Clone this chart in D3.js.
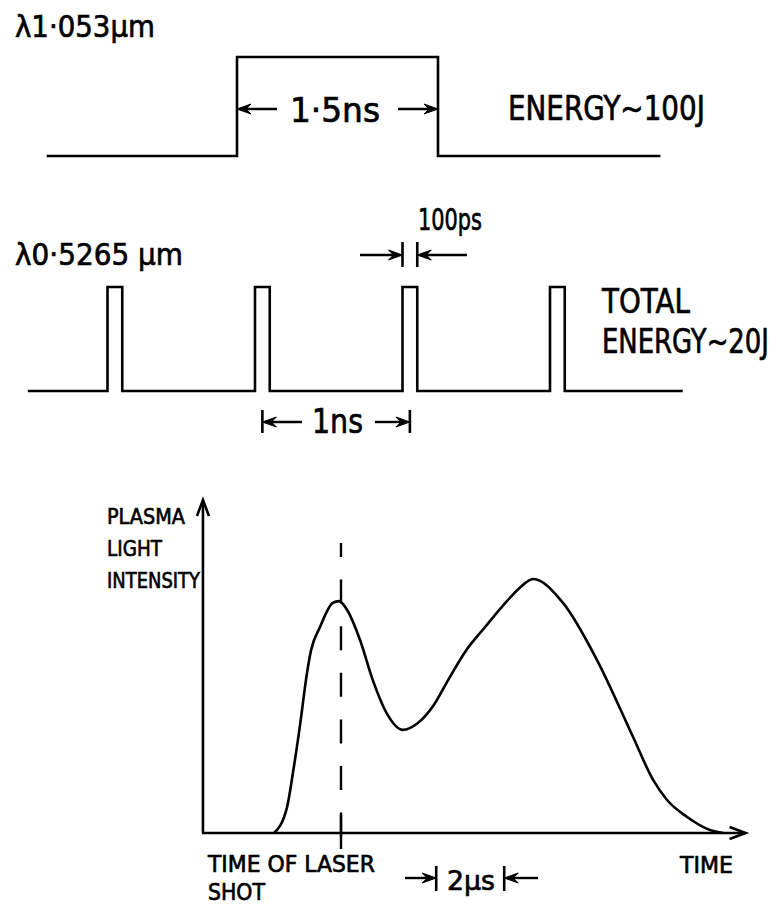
<!DOCTYPE html>
<html>
<head>
<meta charset="utf-8">
<script src="https://cdn.jsdelivr.net/npm/d3@7"></script>
<style>
  body { margin: 0; background: #fff; }
  text { font-family: "DejaVu Sans", sans-serif; fill: #000; stroke: #000; stroke-width: 0.7; }
</style>
</head>
<body>
<svg id="chart" width="778" height="907"></svg>
<script>
// 1.053 um drive pulse: time (ns) and relative level
const longPulseT = [-1.42, 0, 0, 1.5, 1.5, 3.16];
const longPulseV = [0, 0, 1, 1, 0, 0];

// 0.5265 um pulse train: pulse start times (ns), width (ns), trace limits
const shortPulseStarts = [0, 1, 2, 3];
const shortPulseWidth = 0.1;
const trainLimits = [-0.54, 3.9];

// plasma light intensity: time from laser shot (us), intensity (arb.)
const plasmaT = [-1.97, -1.59, -1.41, -1.21, -1.0, -0.88, -0.62, -0.24, -0.06,
                 0.18, 0.56, 0.94, 1.35, 1.82, 2.26, 2.71, 3.15, 3.65, 4.24, 4.88, 5.26,
                 5.65, 6.53, 7.53, 8.59, 9.18, 9.59, 10.18, 10.85, 11.24];
const plasmaI = [0, 0.10, 0.24, 0.42, 0.63, 0.72, 0.81, 0.906, 0.913,
                 0.878, 0.76, 0.60, 0.47, 0.406, 0.433, 0.50, 0.602, 0.713, 0.811, 0.913, 0.966,
                 1.0, 0.906, 0.681, 0.378, 0.209, 0.13, 0.063, 0.012, 0];
const plasmaAxisT = [-4.06, 11.9];

const svg = d3.select('#chart');
svg.append('rect').attr('width', 778).attr('height', 907).attr('fill', '#fff');

const SW = 2.6;

// scales
const xLong = d3.scaleLinear().domain([0, 1.5]).range([237, 438]);
const yLong = d3.scaleLinear().domain([0, 1]).range([156, 57]);
const xShort = d3.scaleLinear().domain([0, 1]).range([107.5, 255]);
const yShort = d3.scaleLinear().domain([0, 1]).range([391, 287]);
const xPl = d3.scaleLinear().domain([0, 2]).range([341, 409]);
const yPl = d3.scaleLinear().domain([0, 1]).range([833, 579]);

// helpers
// narrow lettering: squeeze the text horizontally to the measured width
function label(str, x, y, w, fs) {
    const t = svg.append('text')
        .attr('font-size', fs)
        .text(str);
    const nat = t.node().getComputedTextLength();
    t.attr('transform', `translate(${x},${y}) scale(${w / nat},1)`);
}

function seg(x1, y1, x2, y2, w) {
    svg.append('line')
        .attr('x1', x1).attr('y1', y1).attr('x2', x2).attr('y2', y2)
        .attr('stroke', '#000').attr('stroke-width', w || SW);
}

// horizontal dimension arrow from x1 to tip at x2
function arrow(x1, x2, y) {
    const dir = x2 > x1 ? 1 : -1;
    seg(x1, y, x2 - dir * 6, y, 2.4);
    svg.append('path')
        .attr('d', `M${x2},${y} L${x2 - dir * 14},${y - 5} L${x2 - dir * 9},${y} L${x2 - dir * 14},${y + 5} Z`)
        .attr('fill', '#000').attr('stroke', '#000').attr('stroke-width', 1);
}

const line = d3.line().x(d => d[0]).y(d => d[1]);

// ---- top: 1.053 um pulse ----
svg.append('path')
    .attr('d', line(longPulseT.map((t, i) => [xLong(t), yLong(longPulseV[i])])))
    .attr('fill', 'none').attr('stroke', '#000').attr('stroke-width', SW);

label('λ1·053μm', 15, 37, 140, 30);
arrow(277, xLong(0), 109);
arrow(398, xLong(1.5), 109);
label('1·5ns', 290, 122, 90, 33);
label('ENERGY~100J', 508, 120, 197, 33);

// ---- middle: 0.5265 um pulse train ----
const train = [[trainLimits[0], 0]];
shortPulseStarts.forEach(s => {
    train.push([s, 0], [s, 1], [s + shortPulseWidth, 1], [s + shortPulseWidth, 0]);
});
train.push([trainLimits[1], 0]);
svg.append('path')
    .attr('d', line(train.map(d => [xShort(d[0]), yShort(d[1])])))
    .attr('fill', 'none').attr('stroke', '#000').attr('stroke-width', SW);

label('λ0·5265 μm', 15, 265, 168, 30);

// 100 ps marker on third pulse
const p3 = shortPulseStarts[2];
seg(xShort(p3), 242, xShort(p3), 267);
seg(xShort(p3 + shortPulseWidth), 242, xShort(p3 + shortPulseWidth), 267);
arrow(360, xShort(p3), 255);
arrow(467, xShort(p3 + shortPulseWidth), 255);
label('100ps', 418, 230, 64, 30);

label('TOTAL', 602, 313, 88, 33);
label('ENERGY~20J', 602, 353, 167, 33);

// 1 ns spacing marker
const c2 = shortPulseStarts[1] + shortPulseWidth / 2;
const c3 = shortPulseStarts[2] + shortPulseWidth / 2;
seg(xShort(c2), 410, xShort(c2), 433);
seg(xShort(c3), 410, xShort(c3), 433);
arrow(302, xShort(c2), 422);
arrow(375, xShort(c3), 422);
label('1ns', 312, 433, 51, 33);

// ---- bottom: plasma light intensity ----
const x0 = xPl(plasmaAxisT[0]);
const axisEnd = xPl(plasmaAxisT[1]);
const axisTop = 500;
seg(x0, yPl(0), x0, axisTop + 1);
seg(x0 - 1, yPl(0), axisEnd - 1, yPl(0));
svg.append('path')
    .attr('d', `M${x0 - 6},${axisTop + 16} L${x0},${axisTop} L${x0 + 6},${axisTop + 16}`)
    .attr('fill', 'none').attr('stroke', '#000').attr('stroke-width', SW);
svg.append('path')
    .attr('d', `M${axisEnd - 16},${yPl(0) - 6} L${axisEnd},${yPl(0)} L${axisEnd - 16},${yPl(0) + 6}`)
    .attr('fill', 'none').attr('stroke', '#000').attr('stroke-width', SW);

// laser shot marker
svg.append('line')
    .attr('x1', xPl(0)).attr('x2', xPl(0))
    .attr('y1', 543).attr('y2', 848)
    .attr('stroke', '#000').attr('stroke-width', 2.4)
    .attr('stroke-dasharray', '24,22.6')
    .attr('stroke-dashoffset', 10);
seg(xPl(0), 815, xPl(0), 849, 2.4);

svg.append('path')
    .attr('d', d3.line()
        .x((d, i) => xPl(plasmaT[i]))
        .y(d => yPl(d))
        .curve(d3.curveMonotoneX)(plasmaI))
    .attr('fill', 'none').attr('stroke', '#000').attr('stroke-width', SW)
    .attr('stroke-linejoin', 'round');

label('PLASMA', 107, 524, 78, 22);
label('LIGHT', 107, 556, 55, 22);
label('INTENSITY', 107, 588, 93, 22);

label('TIME OF LASER', 208, 872, 167, 23);
label('SHOT', 208, 900, 57, 23);
label('TIME', 680, 873, 53, 23);

// 2 us scale marker
seg(xPl(2.8), 866, xPl(2.8), 891);
seg(xPl(4.8), 866, xPl(4.8), 891);
arrow(405, xPl(2.8), 878);
arrow(538, xPl(4.8), 878);
label('2μs', 447, 890, 48, 27);
</script>
</body>
</html>
